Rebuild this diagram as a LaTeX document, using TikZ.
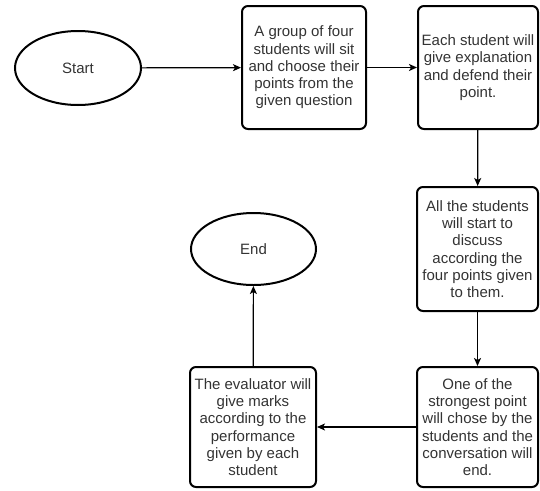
\documentclass[tikz,border=0pt]{standalone}
\usepackage{fontspec}
\setmainfont{Liberation Sans}
\usetikzlibrary{shapes.geometric,arrows.meta}
\begin{document}
\begin{tikzpicture}[x=1pt,y=-1pt,
  every node/.style={font=\fontsize{15}{17.3}\selectfont, text=black!80, align=center, inner sep=0pt},
  stepbox/.style={draw=black, line width=2pt, rounded corners=6pt, rectangle},
  term/.style={draw=black, line width=2pt, ellipse},
  conn/.style={draw=black, line width=1.2pt, -{Stealth[length=8pt,width=7pt,inset=2pt]}}]
\useasboundingbox (0,0) rectangle (540,490);
\node[term, minimum width=126pt, minimum height=74pt] (start) at (78,68) {Start};
\node[stepbox, minimum width=124pt, minimum height=123pt] (b1) at (304,67.5)
  {A group of four\\students will sit\\and choose their\\points from the\\given question};
\node[stepbox, minimum width=120pt, minimum height=123pt] (b2) at (478,67.5)
  {Each student will\\give explanation\\and defend their\\point.};
\node[stepbox, minimum width=121pt, minimum height=124pt] (b3) at (477.5,249)
  {All the students\\will start to\\discuss\\according the\\four points given\\to them.};
\node[stepbox, minimum width=121pt, minimum height=120pt] (b4) at (477.5,427)
  {One of the\\strongest point\\will chose by the\\students and the\\conversation will\\end.};
\node[stepbox, minimum width=126pt, minimum height=120pt] (b5) at (253,427)
  {The evaluator will\\give marks\\according to the\\performance\\given by each\\student};
\node[term, minimum width=125pt, minimum height=72pt] (end) at (253.5,249) {End};
\draw[conn] (start) -- (b1);
\draw[conn] (b1) -- (b2);
\draw[conn] (b2) -- (b3);
\draw[conn] (b3) -- (b4);
\draw[conn] (b4) -- (b5);
\draw[conn] (b5) -- (end);
\end{tikzpicture}
\end{document}
